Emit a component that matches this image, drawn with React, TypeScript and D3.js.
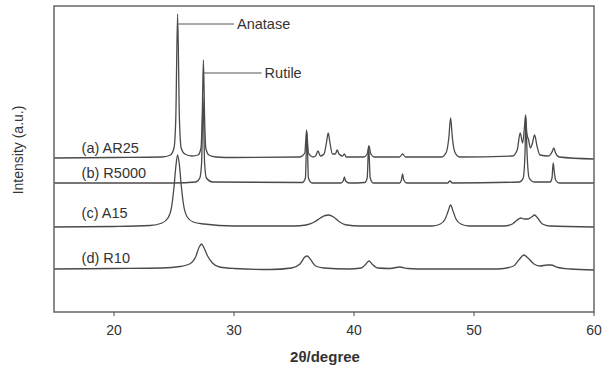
import React from "react";
import * as d3 from "d3";

// 2θ (degree) vs intensity above each trace's own baseline (arbitrary units)
const seriesNames = ["(a) AR25", "(b) R5000", "(c) A15", "(d) R10"];
const seriesOffsets = [154, 129, 85, 43];

const ar25: [number, number][] = [
  [15, 0], [20, 0.5], [24, 1], [24.7, 3], [25.0, 10], [25.15, 40], [25.3, 144], [25.45, 40], [25.6, 10], [25.9, 4],
  [26.5, 2], [27.0, 3], [27.25, 10], [27.35, 40], [27.45, 98], [27.55, 40], [27.65, 10], [27.9, 3], [28.5, 1], [30, 0.5],
  [35.5, 1], [35.9, 5], [36.05, 28], [36.2, 5], [36.6, 1], [36.8, 2], [37.0, 7], [37.2, 2], [37.5, 4], [37.7, 15],
  [37.85, 25], [38.0, 15], [38.2, 4], [38.45, 4], [38.6, 8], [38.75, 4], [39.05, 2], [39.2, 4], [39.35, 1], [40.8, 1],
  [41.1, 4], [41.25, 12], [41.4, 4], [41.7, 1], [43.8, 1], [44.05, 4], [44.3, 1], [47.3, 1], [47.7, 6], [47.9, 20],
  [48.05, 40], [48.2, 20], [48.4, 6], [48.8, 1], [53.2, 2], [53.6, 8], [53.85, 25], [54.05, 15], [54.2, 30], [54.3, 43],
  [54.4, 25], [54.55, 18], [54.7, 10], [54.85, 14], [55.05, 23], [55.25, 12], [55.5, 3], [56.2, 2], [56.5, 6], [56.65, 10],
  [56.8, 5], [57.1, 1], [60, -1],
];

const r5000: [number, number][] = [
  [15, 0], [25, 0], [26.8, 1], [27.15, 5], [27.3, 20], [27.42, 85], [27.55, 20], [27.7, 5], [28.2, 1], [35.7, 0.5],
  [35.95, 5], [36.08, 50], [36.2, 5], [36.5, 0], [38.9, 0], [39.1, 2], [39.2, 6], [39.3, 2], [39.6, 0], [40.9, 0.5],
  [41.1, 5], [41.22, 37], [41.35, 5], [41.6, 0], [43.8, 0], [43.95, 3], [44.05, 9], [44.15, 3], [44.4, 0], [47.8, 0],
  [48.0, 2], [48.2, 0], [53.8, 1], [54.1, 5], [54.25, 30], [54.32, 65], [54.42, 30], [54.6, 5], [55, 1], [56.35, 1],
  [56.5, 5], [56.6, 20], [56.7, 10], [56.8, 3], [57.1, 0], [60, 0],
];

const a15: [number, number][] = [
  [15, 0], [20, 0.5], [23, 1.5], [24, 4], [24.5, 9], [24.8, 20], [25.0, 40], [25.15, 60], [25.3, 72], [25.45, 62],
  [25.6, 42], [25.8, 22], [26.1, 10], [26.6, 5], [27.5, 3], [30, 1], [35, 1], [36, 2], [36.7, 5], [37.2, 9],
  [37.6, 11.5], [37.9, 12], [38.3, 10], [38.8, 5], [39.4, 2], [40.5, 1], [46.5, 1], [47.2, 3], [47.6, 8], [47.85, 16],
  [48.05, 22], [48.25, 16], [48.5, 8], [48.9, 3], [49.6, 1], [52.5, 1], [53.2, 3], [53.6, 7], [53.9, 9], [54.2, 8],
  [54.5, 8], [54.8, 10], [55.05, 12], [55.3, 9], [55.7, 3], [56.3, 1], [60, 0],
];

const r10: [number, number][] = [
  [15, 0], [20, 0.5], [24, 1], [25.5, 2.5], [26.3, 5], [26.8, 12], [27.1, 22], [27.3, 25], [27.5, 21], [27.8, 13],
  [28.2, 6], [28.8, 2], [30, 0.5], [33, -0.5], [34.8, 1], [35.5, 5], [35.9, 12], [36.1, 13], [36.35, 10], [36.8, 3],
  [37.5, 1], [39.5, 0], [40.6, 1], [41.0, 5], [41.25, 8], [41.5, 5], [42, 1], [43, 0.5], [43.8, 2], [44.5, 0.5],
  [46, 0], [52, 0], [53.3, 3], [53.8, 10], [54.15, 14], [54.5, 11], [55, 5], [55.5, 3], [56.1, 4], [56.4, 4],
  [57, 1.5], [58, 0], [60, -1],
];

const allSeries = [ar25, r5000, a15, r10];

const xTicks = [20, 30, 40, 50, 60];
const xDomain: [number, number] = [15, 60];
const yDomain: [number, number] = [0, 306];

// annotations: label, peak 2θ, label 2θ, intensity level
const annoLabels = ["Anatase", "Rutile"];
const annoPeak = [25.38, 27.5];
const annoEnd = [30.0, 32.3];
const annoLevel = [288, 239];

const W = 602;
const H = 369;
const L = 54, R = 594, T = 6, B = 312;

export default function App() {
  const x = d3.scaleLinear().domain(xDomain).range([L, R]);
  const y = d3.scaleLinear().domain(yDomain).range([B, T]);
  const font = "'Liberation Sans', Arial, sans-serif";

  return (
    <svg width={W} height={H} style={{ position: "absolute", left: 0, top: 0, background: "#fff" }}>
      {allSeries.map((s, i) => {
        const line = d3
          .line<[number, number]>()
          .x((d) => x(d[0]))
          .y((d) => y(d[1] + seriesOffsets[i]))
          .curve(d3.curveMonotoneX);
        return (
          <path key={i} d={line(s) || ""} fill="none" stroke="#4a4a4a" strokeWidth={1.3} strokeLinejoin="round" />
        );
      })}
      {seriesNames.map((n, i) => (
        <text
          key={n}
          x={x(17.3)}
          y={y(seriesOffsets[i] + (i === 2 ? 14 : i === 3 ? 11 : 10))}
          dy="0.35em"
          fontFamily={font}
          fontSize={14.5}
          fill="#333"
        >
          {n}
        </text>
      ))}
      {annoLabels.map((a, i) => (
        <g key={a}>
          <line x1={x(annoPeak[i])} x2={x(annoEnd[i])} y1={y(annoLevel[i])} y2={y(annoLevel[i])} stroke="#555" strokeWidth={1} />
          <text x={x(annoEnd[i]) + 3} y={y(annoLevel[i])} dy="0.35em" fontFamily={font} fontSize={14.5} fill="#333">
            {a}
          </text>
        </g>
      ))}
      <rect x={L} y={T} width={R - L} height={B - T} fill="none" stroke="#666" strokeWidth={1.5} />
      {xTicks.map((t) => (
        <g key={t}>
          <line x1={x(t)} x2={x(t)} y1={B} y2={B + 4} stroke="#666" strokeWidth={1.2} />
          <text x={x(t)} y={B + 18} dy="0.35em" textAnchor="middle" fontFamily={font} fontSize={14} fill="#333">
            {t}
          </text>
        </g>
      ))}
      <text x={(L + R) / 2 + 1} y={357} dy="0.35em" textAnchor="middle" fontFamily={font} fontSize={15} fontWeight="bold" fill="#333">
        2θ/degree
      </text>
      <text
        transform={`translate(18,150) rotate(-90)`}
        dy="0.35em"
        textAnchor="middle"
        fontFamily={font}
        fontSize={14}
        fill="#333"
      >
        Intensity (a.u.)
      </text>
    </svg>
  );
}
